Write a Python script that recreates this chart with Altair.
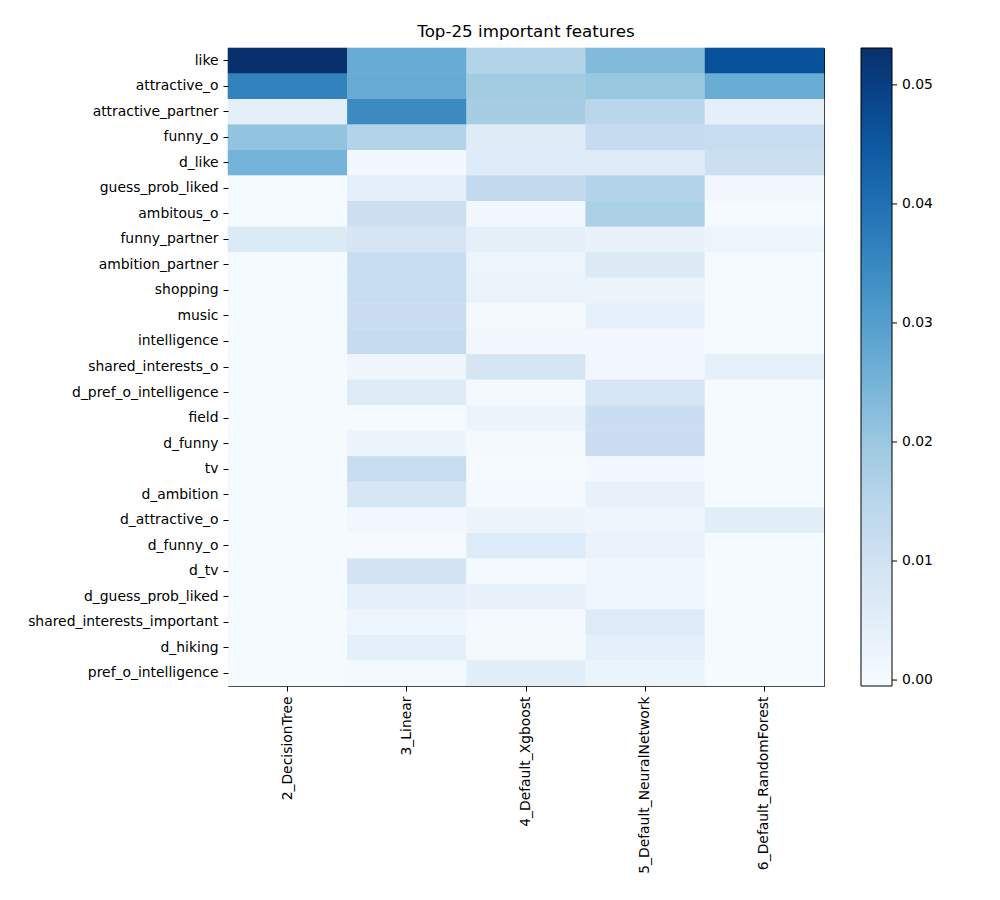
import altair as alt
import pandas as pd

features = ["like", "attractive_o", "attractive_partner", "funny_o", "d_like",
            "guess_prob_liked", "ambitous_o", "funny_partner", "ambition_partner",
            "shopping", "music", "intelligence", "shared_interests_o",
            "d_pref_o_intelligence", "field", "d_funny", "tv", "d_ambition",
            "d_attractive_o", "d_funny_o", "d_tv", "d_guess_prob_liked",
            "shared_interests_important", "d_hiking", "pref_o_intelligence"]

models = ["2_DecisionTree", "3_Linear", "4_Default_Xgboost",
          "5_Default_NeuralNetwork", "6_Default_RandomForest"]

decision_tree = [0.0530, 0.0362, 0.0046, 0.0210, 0.0250, 0.0, 0.0, 0.0067, 0.0, 0.0,
                 0.0, 0.0, 0.0, 0.0, 0.0, 0.0, 0.0, 0.0, 0.0, 0.0, 0.0, 0.0, 0.0, 0.0, 0.0]
linear = [0.0270, 0.0270, 0.0344, 0.0160, 0.0006, 0.0046, 0.0113, 0.0086, 0.0120, 0.0120,
          0.0115, 0.0129, 0.0018, 0.0063, 0.0, 0.0025, 0.0120, 0.0082, 0.0010, 0.0,
          0.0090, 0.0046, 0.0022, 0.0046, 0.0005]
xgboost = [0.0160, 0.0188, 0.0183, 0.0059, 0.0065, 0.0132, 0.0012, 0.0046, 0.0022, 0.0027,
           0.0003, 0.0010, 0.0086, 0.0003, 0.0027, 0.0003, 0.0, 0.0005, 0.0025, 0.0065,
           0.0005, 0.0033, 0.0005, 0.0002, 0.0050]
neural_network = [0.0231, 0.0204, 0.0149, 0.0129, 0.0062, 0.0160, 0.0172, 0.0033, 0.0067,
                  0.0027, 0.0041, 0.0006, 0.0010, 0.0082, 0.0115, 0.0115, 0.0008, 0.0033,
                  0.0018, 0.0030, 0.0017, 0.0015, 0.0065, 0.0046, 0.0025]
random_forest = [0.0467, 0.0266, 0.0046, 0.0120, 0.0113, 0.0011, 0.0, 0.0022, 0.0, 0.0,
                 0.0, 0.0, 0.0041, 0.0, 0.0, 0.0, 0.0, 0.0, 0.0050, 0.0, 0.0, 0.0, 0.0,
                 0.0, 0.0]

legend_ticks = [0.0, 0.01, 0.02, 0.03, 0.04, 0.05]
vmin, vmax = -0.0005, 0.0531
blues = ["#f7fbff", "#deebf7", "#c6dbef", "#9ecae1", "#6baed6",
         "#4292c6", "#2171b5", "#08519c", "#08306b"]
stops = [vmin + (vmax - vmin) * i / 8 for i in range(9)]

series = [decision_tree, linear, xgboost, neural_network, random_forest]
rows = []
for m, vals in zip(models, series):
    for f, v in zip(features, vals):
        rows.append({"model": m, "feature": f, "value": v, "edge": v})
df = pd.DataFrame(rows)
ticks_df = pd.DataFrame({"tick": legend_ticks})

font = "DejaVu Sans"
FS = 13.9
W, H = 596, 638
CB_X, CB_W = 633, 31

x_enc = alt.X("model:N", sort=models, title=None,
              scale=alt.Scale(paddingInner=0, paddingOuter=0),
              axis=alt.Axis(labelAngle=270, labelFontSize=FS, labelColor="black",
                            labelFont=font, tickColor="black", tickSize=5,
                            tickWidth=1, bandPosition=0.5,
                            domain=False, labelPadding=5, labelLimit=400))
y_enc = alt.Y("feature:N", sort=features, title=None,
              scale=alt.Scale(paddingInner=0, paddingOuter=0),
              axis=alt.Axis(labelFontSize=FS, labelColor="black", labelFont=font,
                            tickColor="black", tickSize=5, tickWidth=1,
                            bandPosition=0.5, domain=False,
                            labelPadding=5, labelLimit=400))
y_plain = alt.Y("feature:N", sort=features, title=None,
                scale=alt.Scale(paddingInner=0, paddingOuter=0), axis=None)

edges = alt.Chart(df).mark_rect(filled=False, strokeWidth=0.6).encode(
    x=x_enc, y=y_plain,
    stroke=alt.Stroke("edge:Q",
                      scale=alt.Scale(domain=stops, range=blues, interpolate="rgb",
                                      clamp=True),
                      legend=None),
)

heat = alt.Chart(df).mark_rect().encode(
    x=x_enc, y=y_enc,
    color=alt.Color("value:Q",
                    scale=alt.Scale(domain=stops, range=blues, interpolate="rgb",
                                    clamp=True),
                    legend=alt.Legend(orient="none", legendX=CB_X, legendY=0,
                                      title=None, gradientLength=H,
                                      gradientThickness=CB_W,
                                      gradientStrokeColor="black",
                                      gradientStrokeWidth=1,
                                      values=legend_ticks, format=".2f",
                                      labelFontSize=FS, labelFont=font,
                                      labelColor="black", labelOffset=10,
                                      labelBaseline="middle", labelOverlap=False,
                                      direction="vertical")),
)

cb_ticks = alt.Chart(ticks_df).mark_rule(color="black", strokeWidth=1).encode(
    x=alt.value(CB_X + CB_W),
    x2=alt.value(CB_X + CB_W + 5),
    y=alt.Y("tick:Q", scale=alt.Scale(domain=[vmin, vmax], zero=False, nice=False),
            axis=None),
)

chart = alt.layer(edges, heat, cb_ticks).resolve_scale(
    y="independent", stroke="independent", color="independent"
).properties(
    width=W,
    height=H,
    title=alt.TitleParams("Top-25 important features", fontSize=16.7,
                          fontWeight="normal", font=font, color="black",
                          anchor="middle", offset=7),
    autosize=alt.AutoSizeParams(type="none"),
    padding={"left": 220, "top": 40, "right": 160, "bottom": 200},
).configure_view(stroke="black", strokeWidth=1)

chart.save("out.html", embed_options={"renderer": "svg", "actions": False})
